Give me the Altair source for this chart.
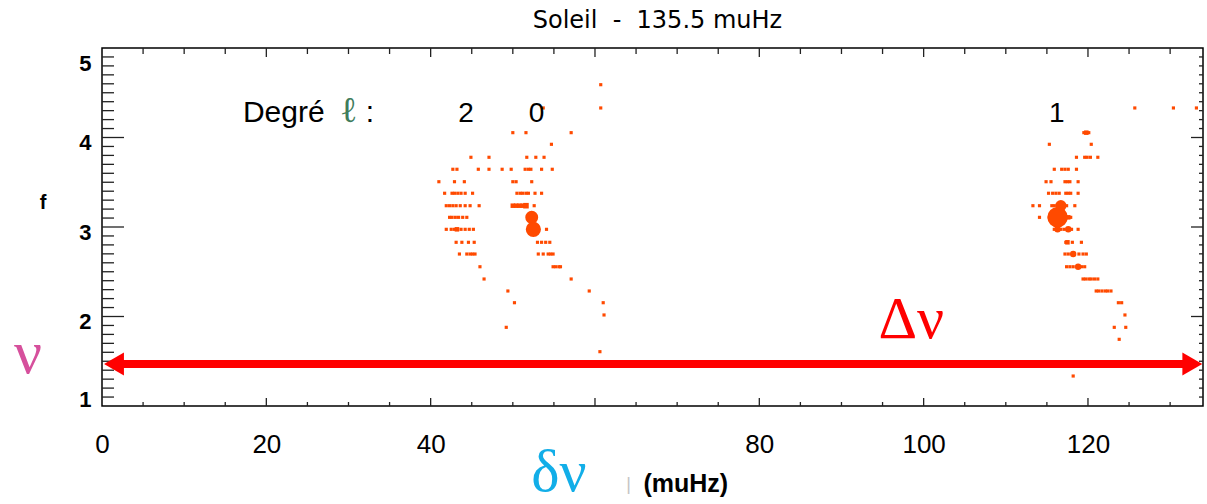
import altair as alt
import pandas as pd

# ---------------- data ----------------
# frequency of each radial order row (mHz) and the peaks found on it:
# (frequency modulo 135.5 muHz, relative power)
order_f = [4.59, 4.33, 4.054, 3.924, 3.779, 3.645, 3.506, 3.377, 3.238, 3.108,
           2.974, 2.829, 2.698, 2.556, 2.419, 2.285, 2.154, 2.017, 1.879, 1.745,
           1.607, 1.335]
order_peaks = [
    [(60.7, 1)],
    [(60.7, 1), (53.7, 1), (125.7, 1), (130.4, 1), (133.2, 1)],
    [(50.0, 1), (51.6, 1), (57.1, 1), (119.5, 1), (119.8, 2), (120.1, 1)],
    [(54.7, 1), (115.3, 1), (120.4, 1)],
    [(44.9, 1), (47.1, 1), (51.7, 1), (52.8, 1), (53.8, 1), (118.6, 1), (119.6, 1),
     (119.9, 1), (120.3, 1), (121.2, 1)],
    [(42.7, 1), (43.2, 1), (45.8, 1), (47.1, 1), (48.7, 1), (49.8, 1), (51.5, 1),
     (51.9, 1), (52.2, 1), (53.5, 1), (54.8, 1), (115.9, 1), (116.8, 1), (117.2, 1),
     (117.6, 1), (118.6, 1)],
    [(41.0, 1), (42.9, 1), (44.1, 1), (50.0, 1), (50.4, 1), (52.3, 1), (114.9, 1),
     (115.5, 1), (117.2, 1), (117.5, 1), (117.8, 1), (118.8, 1)],
    [(41.7, 1), (42.6, 1), (42.9, 1), (43.3, 1), (43.7, 1), (44.2, 1), (45.1, 1),
     (50.5, 1), (50.9, 1), (51.2, 1), (51.6, 1), (51.9, 1), (52.7, 1), (53.5, 1),
     (115.2, 1), (115.7, 1), (116.1, 1), (116.5, 1), (117.3, 1), (117.6, 1),
     (117.9, 1), (118.8, 1)],
    [(41.9, 1), (42.3, 1), (42.7, 1), (43.1, 1), (43.6, 1), (44.2, 1), (44.8, 1),
     (45.9, 1), (50.0, 2), (50.4, 2), (50.8, 2), (51.2, 2), (51.6, 3), (52.6, 1),
     (113.3, 1), (114.1, 1), (115.6, 1), (115.9, 1), (116.7, 12), (117.4, 1), (118.4, 1)],
    [(42.3, 1), (42.6, 1), (43.0, 1), (43.4, 1), (43.9, 1), (44.4, 1), (52.3, 16),
     (114.1, 1), (115.3, 1), (115.7, 1), (116.3, 40), (117.2, 2), (117.6, 2), (117.9, 1)],
    [(41.9, 1), (42.5, 1), (42.9, 1), (43.2, 2), (43.7, 1), (44.2, 1), (44.7, 1),
     (45.2, 1), (52.5, 22), (54.1, 1), (115.9, 1), (116.3, 4), (116.7, 1), (117.1, 1),
     (117.6, 4), (118.0, 1), (118.8, 1)],
    [(43.1, 1), (43.8, 1), (44.6, 1), (45.3, 1), (53.0, 1), (53.5, 1), (54.0, 1),
     (54.5, 1), (117.3, 1), (117.5, 2), (118.1, 1), (119.2, 1)],
    [(43.5, 1), (44.4, 1), (44.8, 1), (45.1, 1), (45.4, 1), (53.1, 1), (53.7, 1),
     (54.3, 1), (54.6, 1), (54.9, 1), (117.2, 1), (117.6, 1), (118.2, 4), (118.9, 1),
     (119.4, 1), (119.8, 1)],
    [(46.0, 1), (54.9, 1), (55.2, 1), (55.6, 1), (55.8, 1), (117.4, 1), (117.8, 1),
     (118.2, 1), (118.8, 4), (119.2, 1), (119.6, 1)],
    [(46.5, 1), (57.1, 1), (119.4, 1), (119.7, 1), (120.1, 1), (120.4, 1), (120.8, 1),
     (121.2, 1)],
    [(49.4, 1), (59.3, 1), (121.0, 1), (121.3, 1), (121.7, 1), (122.1, 1), (122.4, 1),
     (122.8, 1)],
    [(50.2, 1), (61.0, 1), (123.7, 1), (124.1, 1)],
    [(61.1, 1), (124.5, 1)],
    [(49.2, 1), (123.2, 1), (124.6, 1)],
    [(123.8, 1)],
    [(60.6, 1)],
    [(118.2, 1)],
]

# axis ticks / labels
x_label_values = [0, 20, 40, 80, 100, 120]
x_major_ticks = [20, 40, 60, 80, 100, 120]
x_minor_ticks = [5, 10, 15, 25, 30, 35, 45, 50, 55, 65, 70, 75, 85, 90, 95,
                 105, 110, 115, 125, 130]
y_label_values = [1, 2, 3, 4, 5]
y_major_ticks = [2, 3, 4]
y_minor_ticks = [round(1 + i / 10, 1) for i in range(1, 40) if i % 10 != 0]

# large spacing arrow (Delta nu)
arrow_dnu = [1.46, 132.7]
arrow_f = [1.469, 1.469]
arrow_shape = ["triangle-left", "triangle-right"]

# annotations (data coordinates)
degree_text = ["2", "0", "1"]
degree_x = [44.3, 52.9, 116.2]
degree_y = [4.173, 4.173, 4.173]

NB = "\u00a0"
TITLE = f"Soleil{NB}{NB}-{NB}{NB}135.5 muHz"

# ---------------- chart ----------------
W, H = 1101, 358
RED = "#ff0000"
PEAK = "#ff4a00"

rows = []
for f, peaks in zip(order_f, order_peaks):
    for dnu, p in peaks:
        rows.append({"dnu": dnu, "f": f, "pow": p})
peaks_df = pd.DataFrame(rows)

xs = alt.Scale(domain=[0, 134], nice=False, zero=False)
ys = alt.Scale(domain=[1, 5], nice=False, zero=False)

x_axis = alt.Axis(values=x_label_values, title=None, labelFont="Liberation Sans",
                  labelFontSize=26, labelColor="black", ticks=False, tickSize=0,
                  domain=False, grid=False, labelPadding=25, labelFlush=False,
                  labelOverlap=False)
y_axis = alt.Axis(values=y_label_values, title=None, labelFont="Liberation Sans",
                  labelFontSize=22, labelFontWeight="bold", labelColor="black",
                  ticks=False, tickSize=0, domain=False, grid=False, labelPadding=11,
                  labelFlush=True, labelOffset=5, labelOverlap=False)

X = alt.X("dnu:Q", scale=xs, axis=x_axis)
Y = alt.Y("f:Q", scale=ys, axis=y_axis)

pts = alt.Chart(peaks_df).encode(
    x=X, y=Y,
    size=alt.Size("pow:Q", scale=alt.Scale(domain=[1, 40], range=[10, 420]), legend=None),
)
small_pts = pts.mark_square(color=PEAK, opacity=1).transform_filter("datum.pow < 4")
big_pts = pts.mark_circle(color=PEAK, opacity=1).transform_filter("datum.pow >= 4")


def yticks(vals, x0, x1):
    return alt.Chart(pd.DataFrame({"f": vals})).mark_rule(color="#222", strokeWidth=1.3).encode(
        y=Y, x=alt.value(x0), x2=alt.value(x1))


def xticks(vals, y0, y1):
    return alt.Chart(pd.DataFrame({"dnu": vals})).mark_rule(color="#222", strokeWidth=1.3).encode(
        x=X, y=alt.value(y0), y2=alt.value(y1))


ticks = [
    yticks(y_major_ticks, 0, 22), yticks(y_minor_ticks, 0, 12),
    yticks(y_major_ticks, W, W - 12), yticks(y_minor_ticks, W, W - 4),
    xticks(x_major_ticks, H, H - 8), xticks(x_minor_ticks, H, H - 4),
    xticks(x_major_ticks, 0, 9), xticks(x_minor_ticks, 0, 6),
]

arrow_df = pd.DataFrame({"dnu": arrow_dnu, "f": arrow_f, "shape": arrow_shape})
shaft = alt.Chart(pd.DataFrame({"dnu": [arrow_dnu[0]], "dnu2": [arrow_dnu[1]], "f": [arrow_f[0]]})
                  ).mark_rule(color=RED, strokeWidth=8).encode(x=X, x2="dnu2:Q", y=Y)
heads = alt.Chart(arrow_df).mark_point(filled=True, color=RED, opacity=1, size=529).encode(
    x=X, y=Y, shape=alt.Shape("shape:N", scale=None))


def label(text, x, y, **kw):
    return alt.Chart(pd.DataFrame({"t": [text], "dnu": [x], "f": [y]})).mark_text(**kw).encode(
        x=X, y=Y, text="t:N")


texts = [
    label(TITLE, 67.6, 5.223, align="center", baseline="alphabetic",
          font="DejaVu Sans", fontSize=24, color="black"),
    label("Degré", 17.15, 4.173, align="left", baseline="alphabetic",
          font="Liberation Sans", fontSize=30, color="black"),
    label("ℓ", 30.05, 4.173, align="center", baseline="alphabetic",
          font="DejaVu Serif", fontSize=36, color="#3f7d5c"),
    label(":", 32.6, 4.173, align="center", baseline="alphabetic",
          font="Liberation Sans", fontSize=30, color="black"),
    alt.Chart(pd.DataFrame({"t": degree_text, "dnu": degree_x, "f": degree_y})).mark_text(
        align="center", baseline="alphabetic", font="Liberation Sans", fontSize=28, color="black"
    ).encode(x=X, y=Y, text="t:N"),
    label("Δν", 98.5, 1.760, align="center", baseline="alphabetic",
          font="Liberation Serif", fontSize=60, color=RED),
    label("ν", -9.0, 1.369, align="center", baseline="alphabetic",
          font="Liberation Serif", fontSize=62, color="#d6509c"),
    label("δν", 55.6, -0.093, align="center", baseline="bottom",
          font="Liberation Serif", fontSize=60, color="#12aee8"),
    label("|", 64.1, 0.117, align="center", baseline="middle",
          font="Liberation Sans", fontSize=18, color="#c4c4c4"),
    label("(muHz)", 71.05, 0.034, align="center", baseline="alphabetic",
          font="Liberation Sans", fontSize=25, fontWeight="bold", color="black"),
    label("f", -7.18, 3.268, align="center", baseline="middle",
          font="Liberation Sans", fontSize=20, fontWeight="bold", color="black"),
]

chart = alt.layer(*ticks, small_pts, big_pts, shaft, heads, *texts).properties(
    width=W, height=H,
    autosize=alt.AutoSizeParams(type="none"),
    padding={"left": 102, "top": 48, "right": 4, "bottom": 98},
    background="white",
).configure_view(stroke="black", strokeWidth=1.5)

chart.save("out.html", embed_options={"renderer": "svg", "actions": False})
